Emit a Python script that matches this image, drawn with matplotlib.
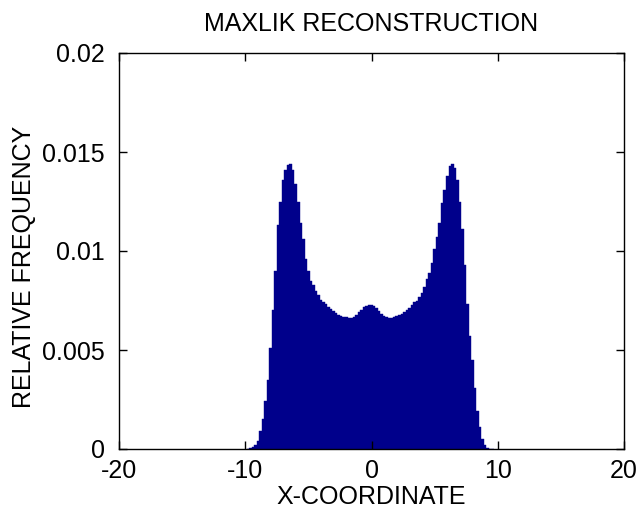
import matplotlib
matplotlib.use("Agg")
import matplotlib.pyplot as plt
import numpy as np

title = "MAXLIK RECONSTRUCTION"
xlabel = "X-COORDINATE"
ylabel = "RELATIVE FREQUENCY"
xticks = [-20, -10, 0, 10, 20]
yticks = [0, 0.005, 0.01, 0.015, 0.02]
ytick_labels = ["0", "0.005", "0.01", "0.015", "0.02"]

bin_width = 0.2
bin_centers = [
    -9.8, -9.6, -9.4, -9.2, -9.0, -8.8, -8.6, -8.4, -8.2, -8.0,
    -7.8, -7.6, -7.4, -7.2, -7.0, -6.8, -6.6, -6.4, -6.2, -6.0,
    -5.8, -5.6, -5.4, -5.2, -5.0, -4.8, -4.6, -4.4, -4.2, -4.0,
    -3.8, -3.6, -3.4, -3.2, -3.0, -2.8, -2.6, -2.4, -2.2, -2.0,
    -1.8, -1.6, -1.4, -1.2, -1.0, -0.8, -0.6, -0.4, -0.2, 0.0,
    0.2, 0.4, 0.6, 0.8, 1.0, 1.2, 1.4, 1.6, 1.8, 2.0,
    2.2, 2.4, 2.6, 2.8, 3.0, 3.2, 3.4, 3.6, 3.8, 4.0,
    4.2, 4.4, 4.6, 4.8, 5.0, 5.2, 5.4, 5.6, 5.8, 6.0,
    6.2, 6.4, 6.6, 6.8, 7.0, 7.2, 7.4, 7.6, 7.8, 8.0,
    8.2, 8.4, 8.6, 8.8, 9.0, 9.2, 9.4, 9.6,
]
frequency = [
    0.0, 0.00004, 0.0001, 0.0002, 0.0004, 0.0009, 0.0015, 0.0024, 0.0035, 0.0051,
    0.0070, 0.0090, 0.0113, 0.0125, 0.0136, 0.0141, 0.01435, 0.0144, 0.0141, 0.0134,
    0.0125, 0.0114, 0.0106, 0.0096, 0.0090, 0.0085, 0.0083, 0.0080, 0.0078, 0.00755,
    0.0074, 0.0073, 0.00716, 0.00706, 0.00696, 0.00686, 0.00678, 0.00672, 0.00668, 0.00665,
    0.00663, 0.00662, 0.00667, 0.00678, 0.0069, 0.00704, 0.00716, 0.00723, 0.00726, 0.00727,
    0.00722, 0.00712, 0.00698, 0.00682, 0.00672, 0.00667, 0.00663, 0.00662, 0.00665, 0.0067,
    0.00675, 0.0068, 0.0069, 0.00701, 0.00712, 0.00726, 0.0074, 0.0075, 0.0077, 0.0079,
    0.0082, 0.0086, 0.0089, 0.0094, 0.0101, 0.0107, 0.0114, 0.0124, 0.0131, 0.0138,
    0.0143, 0.0144, 0.0142, 0.0136, 0.0125, 0.0111, 0.0093, 0.0073, 0.0057, 0.0045,
    0.0031, 0.0019, 0.0011, 0.0005, 0.0002, 0.00007, 0.00002, 0.0,
]

plt.rcParams['font.family'] = ['Liberation Sans', 'DejaVu Sans']

fig = plt.figure(figsize=(6.38, 5.23), dpi=100)
ax = fig.add_axes([119/638, 1-449/523, (624-119)/638, (449-53)/523])

ax.bar(bin_centers, frequency, width=bin_width, color='#00008B', edgecolor='#00008B',
       linewidth=0.3, align='center')

ax.set_xlim(-20, 20)
ax.set_ylim(0, 0.02)
ax.set_xticks(xticks)
ax.set_xticklabels([str(t) for t in xticks])
ax.set_yticks(yticks)
ax.set_yticklabels(ytick_labels)
ax.tick_params(direction='in', length=6, width=1, top=True, right=True,
               labelsize=18, colors='black')
ax.tick_params(axis='x', pad=7)
ax.tick_params(axis='y', pad=10)
for s in ax.spines.values():
    s.set_linewidth(1)
ax.set_title(title, fontsize=18, pad=16)
ax.set_xlabel(xlabel, fontsize=18, labelpad=1.5)
ax.set_ylabel(ylabel, fontsize=18, ha='center', va='center')
ax.yaxis.set_label_coords(-0.188, 0.46)

fig.savefig("out.png", dpi=100, facecolor='white')
